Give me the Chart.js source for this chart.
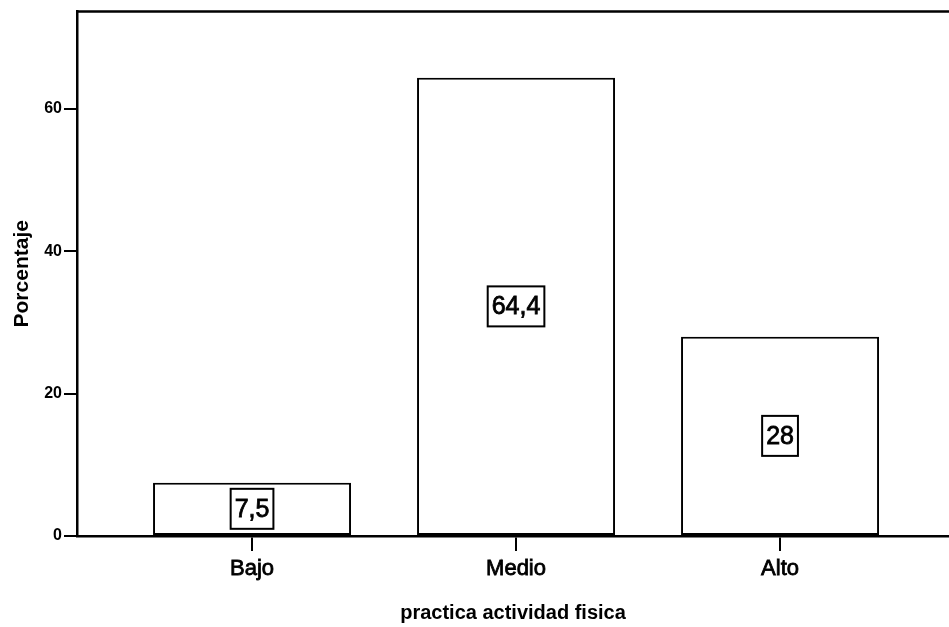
<!DOCTYPE html>
<html lang="es">
<head>
<meta charset="utf-8">
<title>practica actividad fisica</title>
<script src="https://cdn.jsdelivr.net/npm/chart.js@4/dist/chart.umd.min.js"></script>
<style>
  html, body { margin: 0; padding: 0; background: #ffffff; overflow: hidden; }
  canvas { display: block; }
</style>
</head>
<body>
<canvas id="chart" width="949" height="627"></canvas>
<script>
// Porcentaje por nivel de práctica de actividad física
const categories = ['Bajo', 'Medio', 'Alto'];
const percentages = [7.5, 64.4, 28];
const yTicks = [0, 20, 40, 60];
const yMax = 73.7;

const FONT = "'Liberation Sans', Arial, sans-serif";
const INK = '#000000';

// White box with the value (decimal comma) centred in each bar
const valueBoxes = {
  id: 'valueBoxes',
  afterDatasetsDraw(chart) {
    const ctx = chart.ctx;
    const meta = chart.getDatasetMeta(0);
    ctx.save();
    ctx.font = '25px ' + FONT;
    ctx.textAlign = 'center';
    ctx.textBaseline = 'middle';
    meta.data.forEach((bar, i) => {
      const text = String(percentages[i]).replace('.', ',');
      const w = ctx.measureText(text).width + 8;
      const h = 40;
      const cx = bar.x;
      const cy = (bar.y + bar.base) / 2;
      ctx.fillStyle = '#ffffff';
      ctx.fillRect(cx - w / 2, cy - h / 2, w, h);
      ctx.lineWidth = 2;
      ctx.strokeStyle = INK;
      ctx.strokeRect(cx - w / 2, cy - h / 2, w, h);
      ctx.fillStyle = INK;
      ctx.fillText(text, cx, cy + 1);
      ctx.lineWidth = 0.8;
      ctx.strokeText(text, cx, cy + 1);
    });
    ctx.restore();
  }
};

// Top edge of the plot frame
const frameTop = {
  id: 'frameTop',
  afterDraw(chart) {
    const { ctx, chartArea } = chart;
    ctx.save();
    ctx.strokeStyle = INK;
    ctx.lineWidth = 2.5;
    ctx.beginPath();
    ctx.moveTo(chartArea.left - 1, chartArea.top);
    ctx.lineTo(chartArea.right, chartArea.top);
    ctx.stroke();
    ctx.restore();
  }
};

new Chart(document.getElementById('chart'), {
  type: 'bar',
  data: {
    datasets: [{
      data: percentages.map((v, i) => ({ x: i, y: v })),
      backgroundColor: '#ffffff',
      borderColor: INK,
      borderWidth: 2,
      borderSkipped: false,
      categoryPercentage: 1,
      barPercentage: 0.75
    }]
  },
  options: {
    responsive: false,
    animation: false,
    events: [],
    layout: { padding: { top: 10, left: 0, right: 0, bottom: 0 } },
    plugins: {
      legend: { display: false },
      tooltip: { enabled: false }
    },
    scales: {
      x: {
        type: 'linear',
        offset: false,
        min: -0.663,
        max: 2.64,
        afterBuildTicks: (scale) => { scale.ticks = categories.map((c, i) => ({ value: i })); },
        afterFit: (scale) => { scale.height = 91; },
        grid: { offset: false, drawOnChartArea: false, tickLength: 15, color: INK, lineWidth: 2 },
        border: { display: true, color: INK, width: 2.5 },
        ticks: {
          color: INK,
          padding: 5,
          font: { family: FONT, size: 22 },
          textStrokeColor: INK,
          textStrokeWidth: 0.8,
          maxRotation: 0,
          callback: (v) => categories[v] ?? ''
        },
        title: {
          display: true,
          text: 'practica actividad fisica',
          color: INK,
          font: { family: FONT, size: 20, weight: 'bold' },
          padding: { top: 0, bottom: 2 }
        }
      },
      y: {
        min: 0,
        max: yMax,
        afterBuildTicks: (scale) => { scale.ticks = yTicks.map(v => ({ value: v })); },
        afterFit: (scale) => { scale.width = 77; },
        grid: { drawOnChartArea: false, tickLength: 13, color: INK, lineWidth: 2 },
        border: { display: true, color: INK, width: 2.5 },
        ticks: {
          color: INK,
          padding: 2,
          font: { family: FONT, size: 16, weight: 'bold' }
        },
        title: {
          display: true,
          text: 'Porcentaje',
          color: INK,
          font: { family: FONT, size: 21, weight: 'bold' },
          padding: { top: 10, bottom: 0 }
        }
      }
    }
  },
  plugins: [valueBoxes, frameTop]
});
</script>
</body>
</html>
